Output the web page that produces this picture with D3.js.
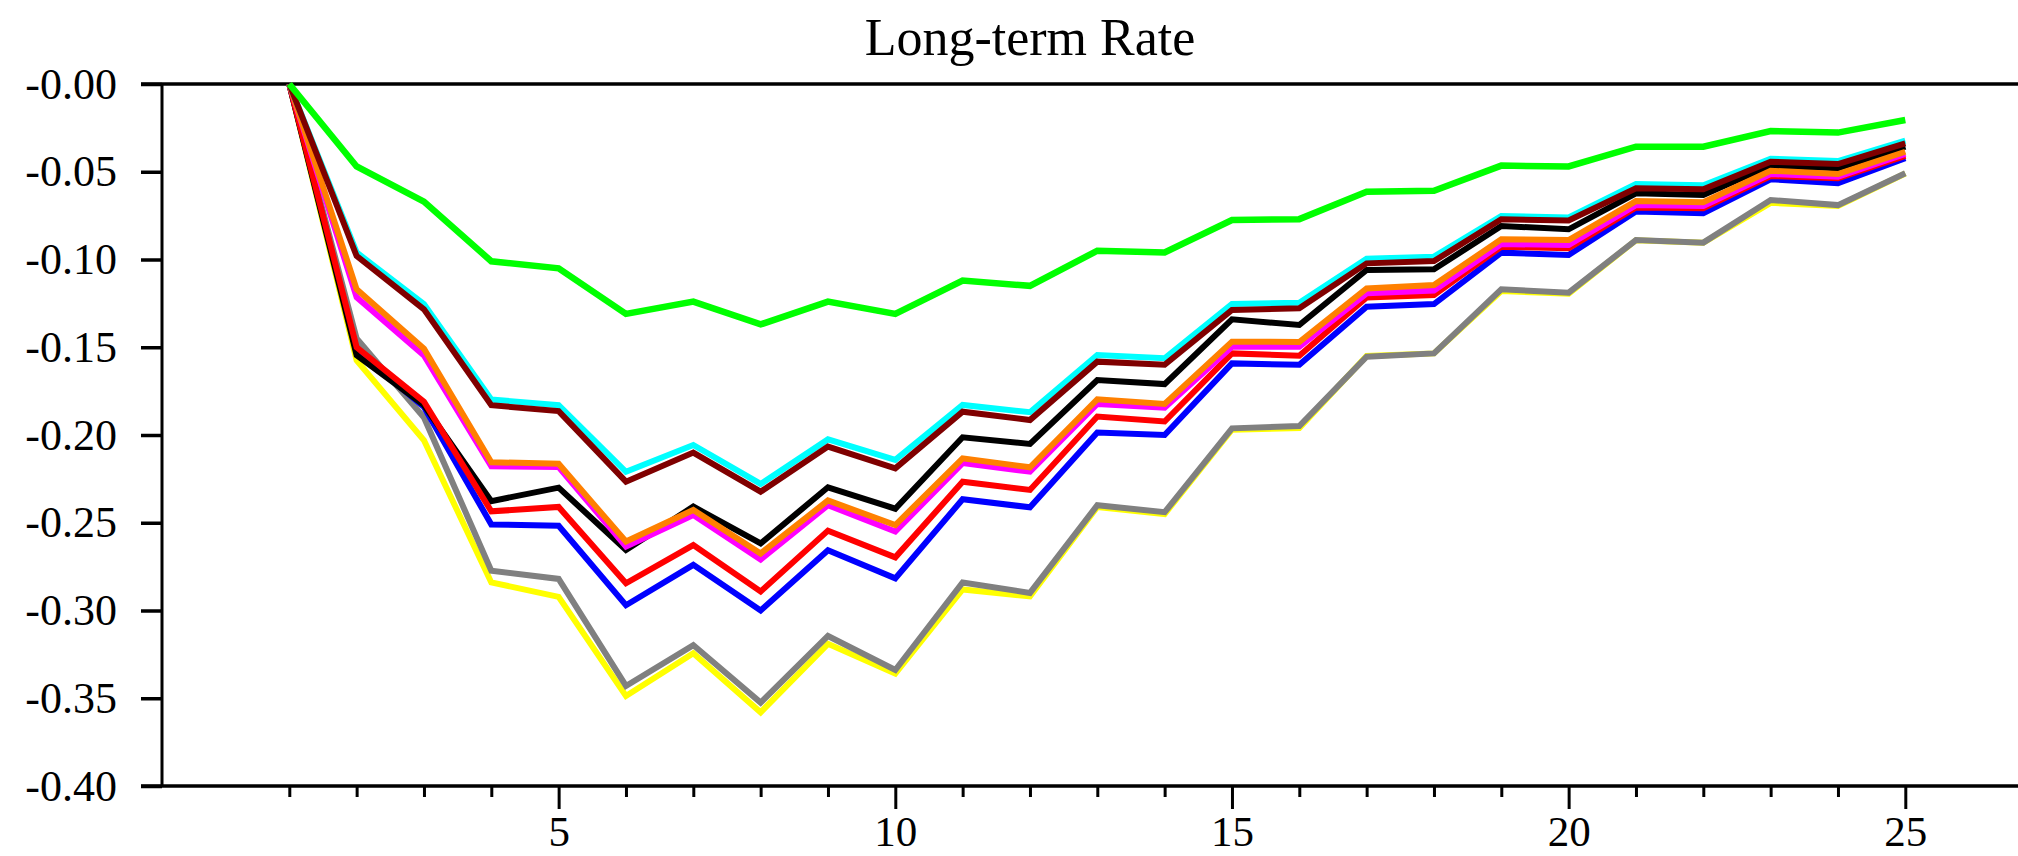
<!DOCTYPE html>
<html>
<head>
<meta charset="utf-8">
<script src="https://cdn.jsdelivr.net/npm/d3@7"></script>
<style>
  html, body { margin: 0; padding: 0; background: #fff; }
  svg { display: block; }
  svg text { font-family: "Liberation Serif", "Times New Roman", serif !important; fill: #000; }
</style>
</head>
<body>
<svg id="chart" width="2018" height="856"></svg>
<script>
// ---- data ----
const periods = d3.range(1, 26);
const xTickLabels = ["5", "10", "15", "20", "25"];
const yTickValues = [0, -0.05, -0.10, -0.15, -0.20, -0.25, -0.30, -0.35, -0.40];
const yTickLabels = ["-0.00", "-0.05", "-0.10", "-0.15", "-0.20", "-0.25", "-0.30", "-0.35", "-0.40"];
const seriesNames = ["yellow", "gray", "blue", "black", "red", "magenta", "orange", "cyan", "maroon", "green"];
const seriesColors = ["#ffff00", "#808080", "#0000ff", "#000000", "#ff0000", "#ff00ff", "#ff8000", "#00ffff", "#7f0000", "#00ff00"];

const yellowVals = [0, -0.1575, -0.203, -0.284, -0.2922, -0.3487, -0.3244, -0.358, -0.319, -0.336, -0.288, -0.292, -0.241, -0.245, -0.197, -0.196, -0.155, -0.1535, -0.118, -0.1195, -0.089, -0.0905, -0.0677, -0.0695, -0.051];
const grayVals = [0, -0.145, -0.190, -0.2773, -0.282, -0.343, -0.3197, -0.3525, -0.3145, -0.3339, -0.284, -0.290, -0.240, -0.244, -0.1962, -0.1949, -0.1554, -0.1535, -0.117, -0.1189, -0.0889, -0.0904, -0.0661, -0.069, -0.0509];
const blueVals = [0, -0.152, -0.184, -0.251, -0.2517, -0.297, -0.274, -0.300, -0.2657, -0.2817, -0.2366, -0.2412, -0.1986, -0.200, -0.1592, -0.160, -0.1269, -0.1254, -0.0961, -0.0974, -0.0727, -0.0737, -0.0543, -0.0566, -0.0423];
const blackVals = [0, -0.1545, -0.183, -0.2377, -0.230, -0.2655, -0.2408, -0.2618, -0.2298, -0.242, -0.2013, -0.2051, -0.1687, -0.171, -0.1341, -0.1373, -0.106, -0.1056, -0.0809, -0.0828, -0.0623, -0.0632, -0.0465, -0.048, -0.0357];
const redVals = [0, -0.150, -0.181, -0.2435, -0.241, -0.2845, -0.2627, -0.2892, -0.2545, -0.2697, -0.2266, -0.2313, -0.1895, -0.1923, -0.1535, -0.1548, -0.1216, -0.1202, -0.0927, -0.0936, -0.0703, -0.0708, -0.0524, -0.0537, -0.041];
const magentaVals = [0, -0.1215, -0.1547, -0.2178, -0.2183, -0.2636, -0.2456, -0.271, -0.240, -0.255, -0.216, -0.2209, -0.1823, -0.1844, -0.1497, -0.1497, -0.1193, -0.1177, -0.0912, -0.0917, -0.069, -0.0695, -0.0513, -0.0528, -0.0399];
const orangeVals = [0, -0.117, -0.1508, -0.2155, -0.2164, -0.2607, -0.2427, -0.2675, -0.2373, -0.2513, -0.2133, -0.2184, -0.1797, -0.1823, -0.1468, -0.147, -0.1165, -0.1145, -0.0885, -0.0889, -0.0667, -0.0674, -0.0494, -0.0513, -0.0386];
const cyanVals = [0, -0.096, -0.1254, -0.1798, -0.183, -0.221, -0.2057, -0.2279, -0.2025, -0.2142, -0.1829, -0.187, -0.1544, -0.1563, -0.1254, -0.1246, -0.0995, -0.0984, -0.0752, -0.076, -0.057, -0.0577, -0.0426, -0.0439, -0.0323];
const maroonVals = [0, -0.098, -0.1284, -0.183, -0.1864, -0.2266, -0.21, -0.2323, -0.2066, -0.219, -0.1867, -0.1915, -0.1582, -0.160, -0.1288, -0.1278, -0.1022, -0.1009, -0.0771, -0.0778, -0.0594, -0.060, -0.0443, -0.0456, -0.0338];
const greenVals = [0, -0.047, -0.067, -0.101, -0.105, -0.131, -0.124, -0.137, -0.124, -0.131, -0.112, -0.115, -0.095, -0.096, -0.0775, -0.077, -0.0614, -0.0608, -0.0465, -0.047, -0.0357, -0.0357, -0.0268, -0.0277, -0.0205];

const seriesValues = [yellowVals, grayVals, blueVals, blackVals, redVals, magentaVals, orangeVals, cyanVals, maroonVals, greenVals];

// ---- layout ----
const W = 2018, H = 856;
const plotLeft = 162, plotTop = 84, plotBottom = 786;
const serif = '"Liberation Serif", "Times New Roman", serif';
const svg = d3.select("#chart");
svg.append("rect").attr("width", W).attr("height", H).attr("fill", "#fff");

const x = d3.scaleLinear().domain([1, 25]).range([289.3, 1905.3]);
const y = d3.scaleLinear().domain([0, -0.40]).range([plotTop, plotBottom]);

// title
svg.append("text")
  .attr("x", 1030).attr("y", 55)
  .attr("text-anchor", "middle")
  .style("font-family", serif)
  .style("font-size", "52px")
  .text("Long-term Rate");

// x axis (minor ticks every period, major at multiples of 5)
const xAxisMinor = d3.axisBottom(x).tickValues(periods.filter(p => p % 5 !== 0)).tickSize(11).tickFormat("");
const xAxisMajor = d3.axisBottom(x).tickValues(xTickLabels.map(Number)).tickSize(23).tickPadding(6).tickFormat((d, i) => xTickLabels[i]);

const gxMinor = svg.append("g").attr("transform", `translate(0,${plotBottom})`).call(xAxisMinor);
const gxMajor = svg.append("g").attr("transform", `translate(0,${plotBottom})`).call(xAxisMajor);
[gxMinor, gxMajor].forEach(g => {
  g.attr("font-family", null).attr("font-size", null);
  g.select(".domain").remove();
  g.selectAll(".tick line").attr("stroke", "#000").attr("stroke-width", 3);
});
gxMajor.selectAll(".tick text")
  .style("font-family", serif)
  .style("font-size", "43px").attr("fill", "#000");

// y axis
const yAxis = d3.axisLeft(y).tickValues(yTickValues).tickSize(21).tickPadding(24)
  .tickFormat((d, i) => yTickLabels[i]);
const gy = svg.append("g").attr("transform", `translate(${plotLeft},0)`).call(yAxis);
gy.attr("font-family", null).attr("font-size", null);
gy.select(".domain").remove();
gy.selectAll(".tick line").attr("stroke", "#000").attr("stroke-width", 3.5);
gy.selectAll(".tick text")
  .style("font-family", serif)
  .style("font-size", "44px").attr("fill", "#000");

// frame lines
svg.append("line").attr("x1", plotLeft).attr("x2", plotLeft).attr("y1", plotTop).attr("y2", plotBottom)
  .attr("stroke", "#000").attr("stroke-width", 3);
svg.append("line").attr("x1", plotLeft - 21).attr("x2", W + 5).attr("y1", plotTop).attr("y2", plotTop)
  .attr("stroke", "#000").attr("stroke-width", 3.5);
svg.append("line").attr("x1", plotLeft - 21).attr("x2", W + 5).attr("y1", plotBottom).attr("y2", plotBottom)
  .attr("stroke", "#000").attr("stroke-width", 3.5);

// lines
const line = d3.line().x((d, i) => x(periods[i])).y(d => y(d));
svg.append("g").selectAll("path")
  .data(seriesValues)
  .join("path")
  .attr("d", d => line(d))
  .attr("fill", "none")
  .attr("stroke", (d, i) => seriesColors[i])
  .attr("stroke-width", (d, i) => seriesNames[i] === "green" ? 6.5 : 6)
  .attr("stroke-linejoin", "miter")
  .attr("stroke-miterlimit", 10);
</script>
</body>
</html>
